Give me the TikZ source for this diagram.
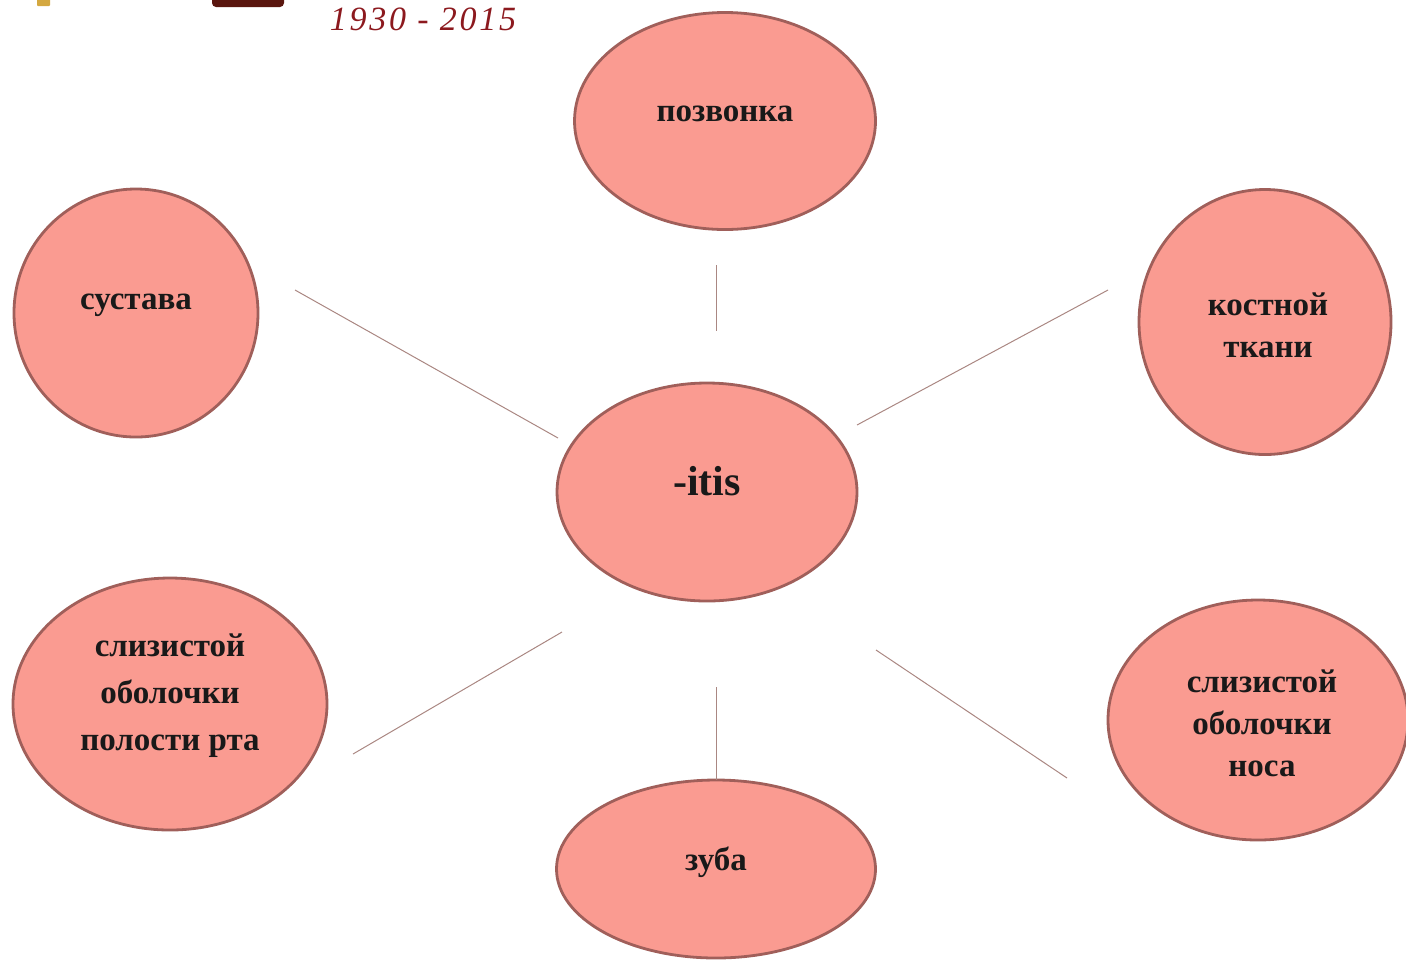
\documentclass[tikz,border=0pt]{standalone}
\usepackage{fontspec}
\setmainfont{Liberation Serif}
\newfontfamily\yearfont[LetterSpace=8]{Liberation Serif}
\usetikzlibrary{shapes.geometric}
\definecolor{bubfill}{RGB}{250,155,145}
\definecolor{bubdraw}{RGB}{160,95,90}
\definecolor{linkc}{RGB}{170,135,130}
\definecolor{yearc}{RGB}{140,25,30}
\tikzset{
  bub/.style={ellipse, draw=bubdraw, line width=1.4pt, fill=bubfill, inner sep=0pt},
  lbl/.style={font=\fontsize{16.5}{21}\selectfont\bfseries, text=black!90, align=center},
  link/.style={draw=linkc, line width=0.5pt}
}
\begin{document}
\begin{tikzpicture}[x=0.5pt,y=-0.5pt]
\useasboundingbox (0,0) rectangle (1406,960);
% logo remnants
\fill[rounded corners=0.5pt, color={rgb,255:red,212;green,168;blue,64}] (37,-2) rectangle (50,6);
\fill[color={rgb,255:red,90;green,22;blue,15}, rounded corners=2pt] (212,-4) rectangle (284,7);
\node[font=\yearfont\fontsize{17}{17}\selectfont\itshape, text=yearc, anchor=base, inner sep=0pt] (years) at (423,30) {1930 - 2015};
% bubbles
\node[bub, minimum width=150.5pt, minimum height=108.5pt] (pozv) at (725,121) {};
\node[bub, minimum width=122pt, minimum height=124pt] (sust) at (136,313) {};
\node[bub, minimum width=126pt, minimum height=132.5pt] (kost) at (1265,322) {};
\node[bub, minimum width=150pt, minimum height=109pt] (itis) at (707,492) {};
\node[bub, minimum width=157pt, minimum height=126pt] (rta) at (170,704) {};
\node[bub, minimum width=150pt, minimum height=120pt] (nos) at (1258,720) {};
\node[bub, minimum width=159.5pt, minimum height=89pt] (zub) at (716,869) {};
% labels
\node[lbl] (tpozv) at (725,114) {позвонка};
\node[lbl] (tsust) at (136,305) {сустава};
\node[lbl] (tkost) at (1268,325) {костной\\ткани};
\node[font=\fontsize{21}{21}\selectfont\bfseries, text=black!90] (titis) at (707,481) {-itis};
\node[lbl, font=\fontsize{16.5}{23.5}\selectfont\bfseries] (trta) at (170,696) {слизистой\\оболочки\\полости рта};
\node[lbl] (tnos) at (1262,723) {слизистой\\оболочки\\носа};
\node[lbl] (tzub) at (716,862) {зуба};
% connector ends
\coordinate (a1) at (716,265); \coordinate (a2) at (716,331);
\coordinate (b1) at (295,290); \coordinate (b2) at (558,438);
\coordinate (c1) at (1108,290); \coordinate (c2) at (857,425);
\coordinate (d1) at (562,632); \coordinate (d2) at (353,754);
\coordinate (e1) at (716,687); \coordinate (e2) at (716,780);
\coordinate (f1) at (876,650); \coordinate (f2) at (1067,778);
\draw[link] (a1) -- (a2);
\draw[link] (b1) -- (b2);
\draw[link] (c1) -- (c2);
\draw[link] (d1) -- (d2);
\draw[link] (e1) -- (e2);
\draw[link] (f1) -- (f2);
\end{tikzpicture}
\end{document}
